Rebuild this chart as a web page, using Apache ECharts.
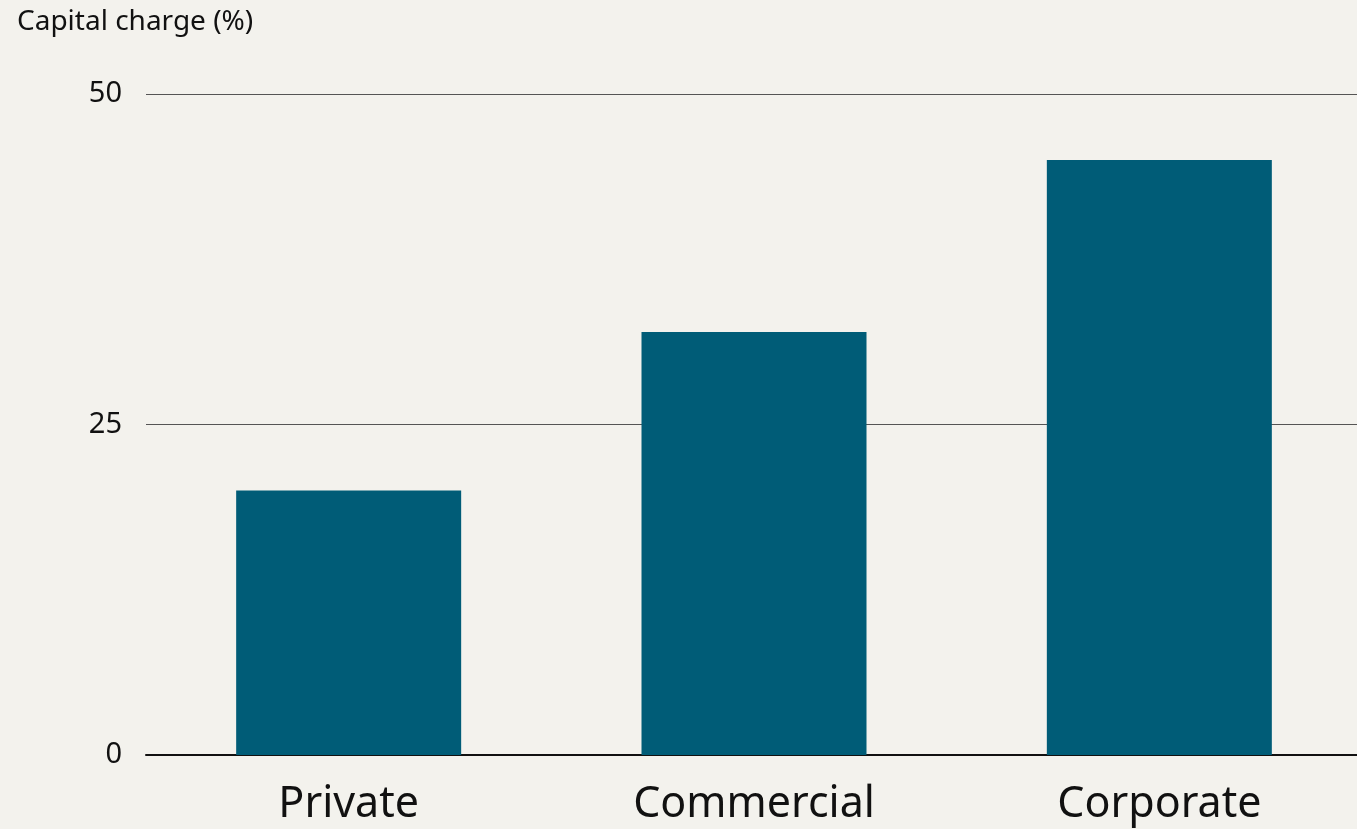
<!DOCTYPE html>
<html>
<head>
<meta charset="utf-8">
<script src="https://cdn.jsdelivr.net/npm/echarts@6/dist/echarts.min.js"></script>
<style>
  html, body { margin: 0; padding: 0; background: #f3f2ed; overflow: hidden; }
  #chart { width: 1362px; height: 829px; }
</style>
</head>
<body>
<div id="chart"></div>
<script>
// Capital charge by loan type
const categories = ['Private', 'Commercial', 'Corporate'];
const capitalCharge = [20, 32, 45];
const yTicks = [0, 25, 50];

const chart = echarts.init(document.getElementById('chart'), null, { renderer: 'canvas' });

chart.setOption({
  backgroundColor: '#f3f2ed',
  animation: false,
  textStyle: { fontFamily: 'Noto Sans' },
  title: {
    text: 'Capital charge (%)',
    left: 12,
    top: 3,
    textStyle: { fontFamily: 'Noto Sans', fontSize: 28, fontWeight: 'normal', color: '#111' }
  },
  grid: { left: 146, right: 0, top: 94, bottom: 74, containLabel: false },
  xAxis: {
    type: 'category',
    data: categories,
    axisLine: { show: true, lineStyle: { color: '#111', width: 2 } },
    axisTick: { show: false },
    axisLabel: { fontFamily: 'Noto Sans', fontSize: 43, color: '#111', margin: 28 }
  },
  yAxis: {
    type: 'value',
    min: yTicks[0],
    max: yTicks[yTicks.length - 1],
    interval: yTicks[1] - yTicks[0],
    axisLine: { show: false },
    axisTick: { show: false },
    axisLabel: { fontFamily: 'Noto Sans', fontSize: 29, color: '#111', margin: 24, lineHeight: 34, verticalAlign: 'middle', padding: [6, 0, 0, 0] },
    splitLine: { show: true, lineStyle: { color: '#555', width: 1 } }
  },
  series: [{
    type: 'bar',
    data: capitalCharge,
    barWidth: 225,
    itemStyle: { color: '#005c77' }
  }]
});
</script>
</body>
</html>
